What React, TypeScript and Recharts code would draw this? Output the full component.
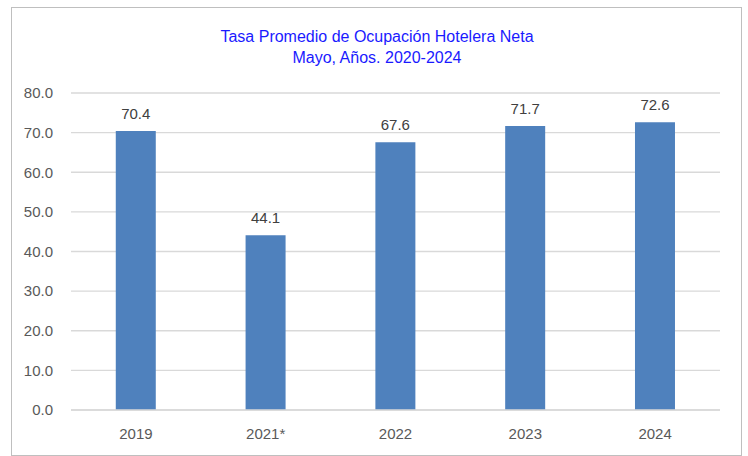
import React from "react";
import { BarChart, Bar, XAxis, YAxis, CartesianGrid, LabelList } from "recharts";

const categories = ["2019", "2021*", "2022", "2023", "2024"];
const values = [70.4, 44.1, 67.6, 71.7, 72.6];
const yTicks = [0, 10, 20, 30, 40, 50, 60, 70, 80];
const titleLines = ["Tasa Promedio de Ocupación Hotelera Neta", "Mayo, Años. 2020-2024"];

const data = categories.map((c, i) => ({ year: c, value: values[i] }));

const FONT = "'Liberation Sans', Arial, sans-serif";

export default function App() {
  return (
    <div style={{ position: "absolute", left: 0, top: 0, width: 748, height: 456, background: "#fff", fontFamily: FONT }}>
      <div style={{ position: "absolute", left: 11, top: 7, width: 729, height: 447, border: "1px solid #bfbfbf" }} />
      <div style={{ position: "absolute", left: 0, top: 26, width: 754, textAlign: "center", color: "#1a1aff", fontSize: 16, lineHeight: "21px" }}>
        <div>{titleLines[0]}</div>
        <div>{titleLines[1]}</div>
      </div>
      <div style={{ position: "absolute", left: 0, top: 0 }}>
        <BarChart width={748} height={456} data={data} margin={{ top: 93, right: 28, bottom: 16, left: 0 }} barCategoryGap="34.5%">
          <CartesianGrid vertical={false} stroke="#d9d9d9" strokeWidth={1.3} />
          <XAxis dataKey="year" axisLine={{ stroke: "#d9d9d9", strokeWidth: 1.3 }} tickLine={false} tickSize={0} tickMargin={18} height={30}
            tick={{ fill: "#595959", fontSize: 15, fontFamily: FONT }} />
          <YAxis domain={[0, 80]} ticks={yTicks} width={71} axisLine={false} tickLine={false} tickSize={0} tickMargin={18}
            tickFormatter={(v: number) => v.toFixed(1)} tick={{ fill: "#595959", fontSize: 15, fontFamily: FONT }} />
          <Bar dataKey="value" fill="#4f81bd" isAnimationActive={false}>
            <LabelList dataKey="value" position="top" offset={12} formatter={(v: number) => v.toFixed(1)}
              style={{ fill: "#404040", fontSize: 15, fontFamily: FONT }} />
          </Bar>
        </BarChart>
      </div>
    </div>
  );
}
